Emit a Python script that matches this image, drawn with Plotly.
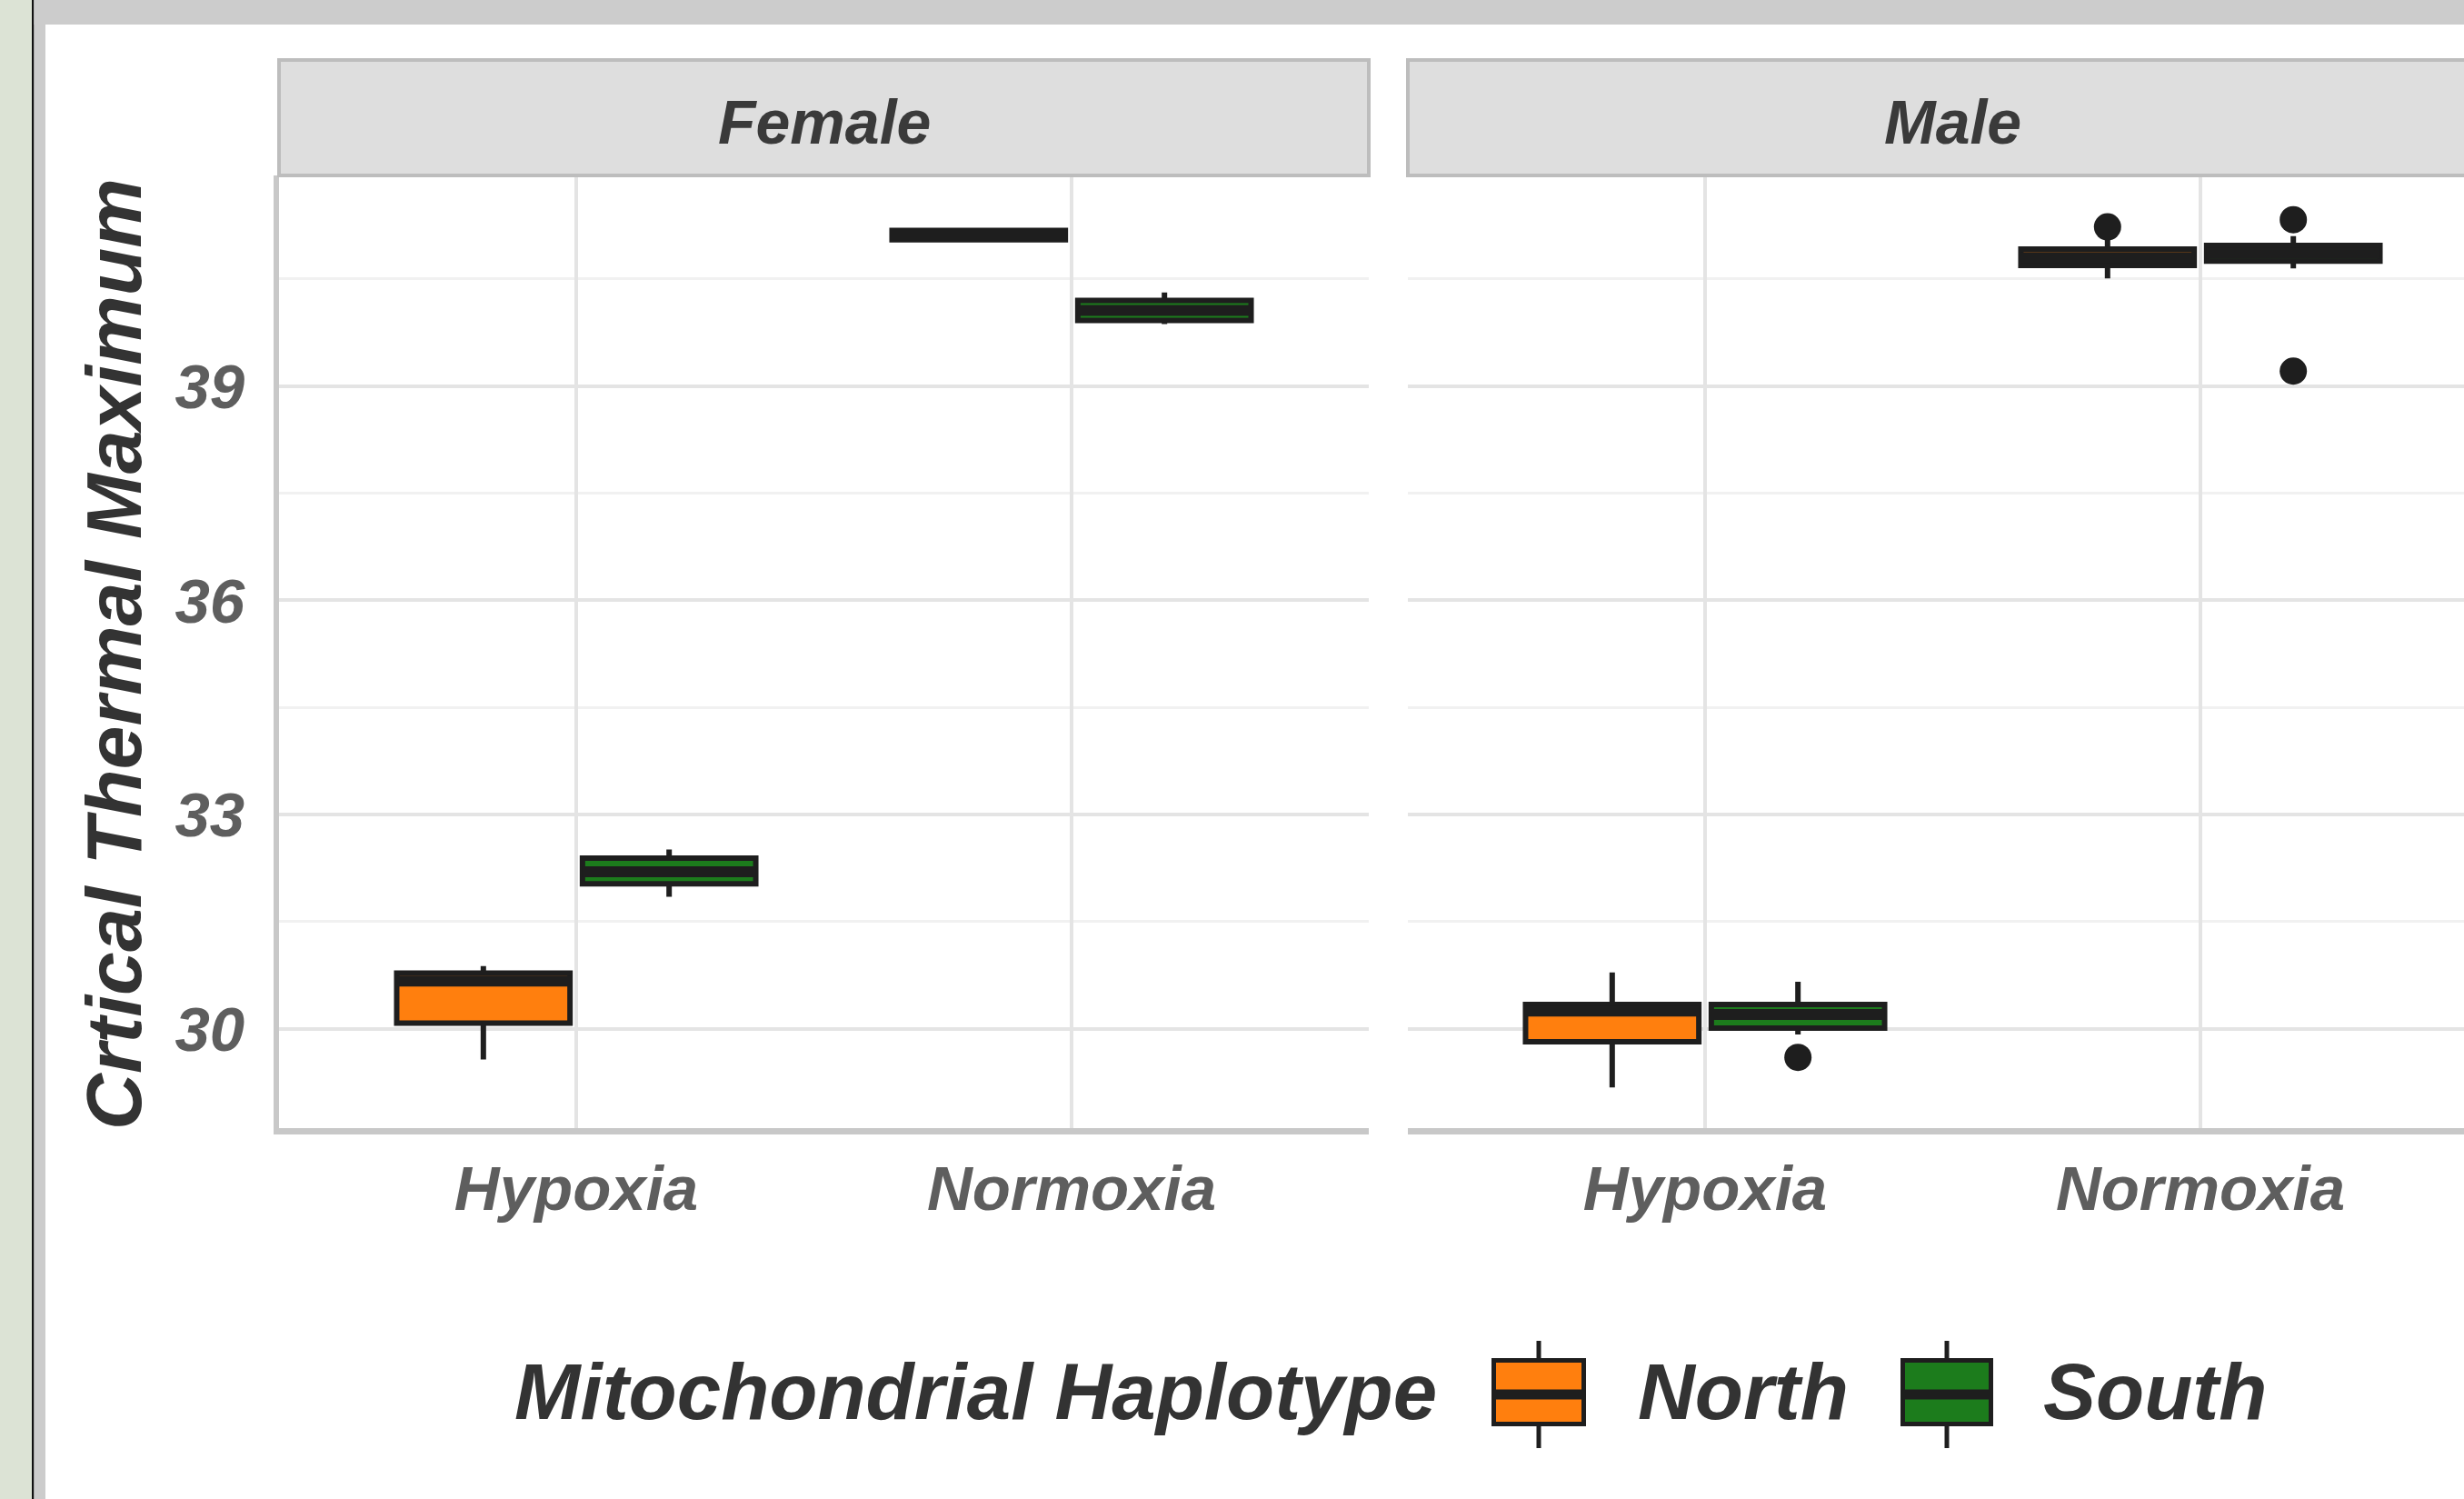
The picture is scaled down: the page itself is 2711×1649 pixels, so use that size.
import plotly.graph_objects as go

W, H = 2711, 1649

# ---------------- data ----------------
conditions = ["Hypoxia", "Normoxia"]
panels = ["Female", "Male"]
haplotypes = ["North", "South"]

# box statistics, order = [Hypoxia, Normoxia]
female_north_q1 = [30.08, 41.05]
female_north_median = [30.67, 41.12]
female_north_q3 = [30.78, 41.18]
female_north_lower = [29.57, 41.05]
female_north_upper = [30.88, 41.18]

female_south_q1 = [32.03, 39.92]
female_south_median = [32.20, 40.06]
female_south_q3 = [32.39, 40.20]
female_south_lower = [31.85, 39.87]
female_south_upper = [32.51, 40.31]

male_north_q1 = [29.82, 40.69]
male_north_median = [30.25, 40.80]
male_north_q3 = [30.34, 40.92]
male_north_lower = [29.18, 40.51]
male_north_upper = [30.79, 41.06]

male_south_q1 = [30.01, 40.75]
male_south_median = [30.20, 40.86]
male_south_q3 = [30.34, 40.97]
male_south_lower = [29.92, 40.65]
male_south_upper = [30.66, 41.10]

male_north_outlier_x = ["Normoxia"]
male_north_outlier_y = [41.23]
male_south_outlier_x = ["Hypoxia", "Normoxia", "Normoxia"]
male_south_outlier_y = [29.60, 41.33, 39.21]

y_tick_values = [30, 33, 36, 39]
y_title = "Crtical Thermal Maximum"
legend_title = "Mitochondrial Haplotype"

# ---------------- style ----------------
FONT = "Liberation Sans, Arial, Helvetica, sans-serif"
COL_NORTH = "#FF7F0E"
COL_SOUTH = "#1C7C1C"
EDGE = "#1e1e1e"
BOX_LW = 6
MED_LW = 12


def px(x):
    return x / W


def py(y):
    return 1 - y / H


fig = go.Figure()

stats = {
    ("Female", "North"): (female_north_q1, female_north_median, female_north_q3, female_north_lower, female_north_upper),
    ("Female", "South"): (female_south_q1, female_south_median, female_south_q3, female_south_lower, female_south_upper),
    ("Male", "North"): (male_north_q1, male_north_median, male_north_q3, male_north_lower, male_north_upper),
    ("Male", "South"): (male_south_q1, male_south_median, male_south_q3, male_south_lower, male_south_upper),
}
colors = {"North": COL_NORTH, "South": COL_SOUTH}
axes = {"Female": ("x", "y"), "Male": ("x2", "y2")}

for panel in panels:
    xa, ya = axes[panel]
    for hap in haplotypes:
        q1, med, q3, lo, hi = stats[(panel, hap)]
        fig.add_trace(go.Box(
            x=conditions, q1=q1, median=med, q3=q3, lowerfence=lo, upperfence=hi,
            fillcolor=colors[hap], line=dict(color=EDGE, width=BOX_LW),
            whiskerwidth=0, boxpoints=False, offsetgroup=hap, name=hap,
            xaxis=xa, yaxis=ya, showlegend=False, hoverinfo="skip"))
        # thick median bar (ggplot style)
        fig.add_trace(go.Box(
            x=conditions, q1=med, median=med, q3=med, lowerfence=med, upperfence=med,
            fillcolor="rgba(0,0,0,0)", line=dict(color=EDGE, width=MED_LW),
            whiskerwidth=0, boxpoints=False, offsetgroup=hap, name=hap,
            xaxis=xa, yaxis=ya, showlegend=False, hoverinfo="skip"))

fig.add_trace(go.Scatter(
    x=male_north_outlier_x, y=male_north_outlier_y, mode="markers",
    marker=dict(color=EDGE, size=30, line=dict(width=0)), offsetgroup="North",
    xaxis="x2", yaxis="y2", showlegend=False, hoverinfo="skip"))
fig.add_trace(go.Scatter(
    x=male_south_outlier_x, y=male_south_outlier_y, mode="markers",
    marker=dict(color=EDGE, size=30, line=dict(width=0)), offsetgroup="South",
    xaxis="x2", yaxis="y2", showlegend=False, hoverinfo="skip"))

# ---------------- layout ----------------
plot_top, plot_bot = 193, 1241
f_left, f_right = 307, 1506
m_left = 1549
panel_w = f_right - f_left
ydom = [py(plot_bot), py(plot_top)]
yrange = [28.61, 41.95]

tickfont = dict(family=FONT, size=69, color="#5e5e5e", weight="bold", style="italic")
GRID = "#e4e4e4"
MINOR = "#f1f1f1"
AXLINE = "#c8c8c8"

xcommon = dict(type="category", categoryorder="array", categoryarray=conditions,
               showgrid=True, gridcolor=GRID, gridwidth=4, zeroline=False,
               showline=True, linecolor=AXLINE, linewidth=7, ticks="",
               tickfont=tickfont, ticklabelstandoff=0, fixedrange=True)
ycommon = dict(range=yrange, tickvals=y_tick_values, showgrid=True, gridcolor=GRID,
               gridwidth=4, zeroline=False, ticks="",
               minor=dict(tickvals=[31.5, 34.5, 37.5, 40.5], showgrid=True,
                          gridcolor=MINOR, gridwidth=3, ticks=""),
               tickfont=tickfont, fixedrange=True)

m_range_right = -0.6 + 2.2 * (W - m_left) / panel_w

fig.update_layout(
    width=W, height=H,
    margin=dict(l=0, r=0, t=0, b=0),
    paper_bgcolor="white", plot_bgcolor="white",
    boxmode="group", boxgap=0.25, boxgroupgap=0.067,
    scattermode="group", scattergap=0.25,
    xaxis=dict(domain=[px(f_left), px(f_right)], anchor="y", range=[-0.6, 1.6], **xcommon),
    xaxis2=dict(domain=[px(m_left), 1.0], anchor="y2", range=[-0.6, m_range_right], **xcommon),
    yaxis=dict(domain=ydom, anchor="x", showline=True, linecolor=AXLINE, linewidth=6,
               ticklabelstandoff=18, **ycommon),
    yaxis2=dict(domain=ydom, anchor="x2", matches="y", showline=False,
                showticklabels=False, **ycommon),
    showlegend=False,
)

shapes = []
# slide frame decoration
shapes.append(dict(type="rect", xref="paper", yref="paper", x0=0, x1=px(35), y0=0, y1=1,
                   fillcolor="#DCE3D5", line=dict(width=0), layer="below"))
shapes.append(dict(type="rect", xref="paper", yref="paper", x0=px(35), x1=px(37.5), y0=0, y1=1,
                   fillcolor="#111111", line=dict(width=0), layer="below"))
shapes.append(dict(type="rect", xref="paper", yref="paper", x0=px(37.5), x1=px(50), y0=0, y1=1,
                   fillcolor="#CCCCCC", line=dict(width=0), layer="below"))
shapes.append(dict(type="rect", xref="paper", yref="paper", x0=px(37.5), x1=1, y0=py(27), y1=1,
                   fillcolor="#CCCCCC", line=dict(width=0), layer="below"))
# facet strips
for x0, x1 in [(f_left, f_right), (m_left, W + 20)]:
    shapes.append(dict(type="rect", xref="paper", yref="paper", x0=px(x0), x1=px(x1),
                       y0=py(plot_top), y1=py(66), fillcolor="#DEDEDE",
                       line=dict(color="#BDBDBD", width=4)))

# legend keys
def legend_key(xl, xr, fill):
    yt, yb = 1496.5, 1566.5
    xc = (xl + xr) / 2
    out = [
        dict(type="line", xref="paper", yref="paper", x0=px(xc), x1=px(xc), y0=py(1475), y1=py(yt),
             line=dict(color=EDGE, width=5)),
        dict(type="line", xref="paper", yref="paper", x0=px(xc), x1=px(xc), y0=py(yb), y1=py(1593),
             line=dict(color=EDGE, width=5)),
        dict(type="rect", xref="paper", yref="paper", x0=px(xl), x1=px(xr), y0=py(yb), y1=py(yt),
             fillcolor=fill, line=dict(color=EDGE, width=5)),
        dict(type="line", xref="paper", yref="paper", x0=px(xl), x1=px(xr), y0=py(1534), y1=py(1534),
             line=dict(color=EDGE, width=11)),
    ]
    return out

shapes += legend_key(1643.5, 1742.5, COL_NORTH)
shapes += legend_key(2093.5, 2190.5, COL_SOUTH)

annotations = []
strip_font = dict(family=FONT, size=68, color="#3a3a3a", weight="bold", style="italic")
annotations.append(dict(text="Female", xref="paper", yref="paper", x=px((f_left + f_right) / 2),
                        y=py(134), xanchor="center", yanchor="middle", showarrow=False, font=strip_font))
annotations.append(dict(text="Male", xref="paper", yref="paper", x=px(m_left + panel_w / 2),
                        y=py(134), xanchor="center", yanchor="middle", showarrow=False, font=strip_font))
annotations.append(dict(text=y_title, xref="paper", yref="paper", x=px(125), y=py(720),
                        xanchor="center", yanchor="middle", textangle=-90, showarrow=False,
                        font=dict(family=FONT, size=86, color="#333333", weight="bold", style="italic")))
leg_font = dict(family=FONT, size=87, color="#333333", weight="bold", style="italic")
annotations.append(dict(text=legend_title, xref="paper", yref="paper", x=px(564), y=py(1530),
                        xanchor="left", yanchor="middle", showarrow=False, font=leg_font))
annotations.append(dict(text=haplotypes[0], xref="paper", yref="paper", x=px(1800), y=py(1530),
                        xanchor="left", yanchor="middle", showarrow=False, font=leg_font))
annotations.append(dict(text=haplotypes[1], xref="paper", yref="paper", x=px(2246), y=py(1530),
                        xanchor="left", yanchor="middle", showarrow=False, font=leg_font))

fig.update_layout(shapes=shapes, annotations=annotations)

fig.write_html("out.html", config={"displayModeBar": False})
